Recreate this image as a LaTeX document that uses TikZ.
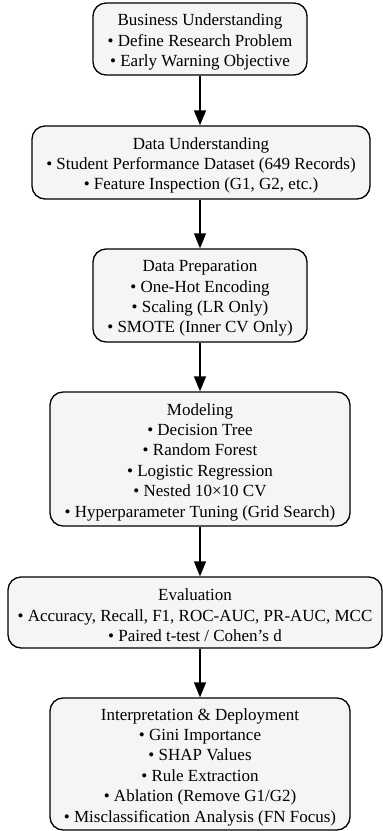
\documentclass[tikz,border=0pt]{standalone}
\usepackage{fontspec}
\setmainfont{Liberation Serif}
\usetikzlibrary{arrows.meta}
\begin{document}
\begin{tikzpicture}[x=1pt,y=-1pt,
  stage/.style={draw=black, line width=1.3pt, fill=black!4, rounded corners=13pt,
    inner sep=0pt},
  stagetext/.style={align=center, inner sep=0pt, yshift=-3pt,
    font=\fontsize{17pt}{20.4pt}\selectfont},
  flow/.style={draw=black, line width=1.3pt, -{Triangle[length=15pt,width=12pt]}}]
\useasboundingbox (0,0) rectangle (383,831);
\node[stage, minimum width=214pt, minimum height=72pt,
  label={[stagetext]center:{Business Understanding\\ • Define Research Problem\\ • Early Warning Objective}}] (bu) at (200,39) {};
\node[stage, minimum width=338pt, minimum height=73pt,
  label={[stagetext]center:{Data Understanding\\ • Student Performance Dataset (649 Records)\\ • Feature Inspection (G1, G2, etc.)}}] (du) at (201,162.5) {};
\node[stage, minimum width=214pt, minimum height=93pt,
  label={[stagetext]center:{Data Preparation\\ • One-Hot Encoding\\ • Scaling (LR Only)\\ • SMOTE (Inner CV Only)}}] (dp) at (200,295.5) {};
\node[stage, minimum width=300pt, minimum height=134pt,
  label={[stagetext]center:{Modeling\\ • Decision Tree\\ • Random Forest\\ • Logistic Regression\\ • Nested 10×10 CV\\ • Hyperparameter Tuning (Grid Search)}}] (mo) at (200,459) {};
\node[stage, minimum width=374pt, minimum height=71pt,
  label={[stagetext]center:{Evaluation\\ • Accuracy, Recall, F1, ROC-AUC, PR-AUC, MCC\\ • Paired t-test / Cohen’s d}}] (ev) at (195,612.5) {};
\node[stage, minimum width=300pt, minimum height=132pt,
  label={[stagetext]center:{Interpretation \& Deployment\\ • Gini Importance\\ • SHAP Values\\ • Rule Extraction\\ • Ablation (Remove G1/G2)\\ • Misclassification Analysis (FN Focus)}}] (id) at (200,764) {};
\draw[flow] (bu.south) -- (bu.south |- du.north);
\draw[flow] (du.south -| dp.north) -- (dp.north);
\draw[flow] (dp.south) -- (mo.north);
\draw[flow] (mo.south) -- (mo.south |- ev.north);
\draw[flow] (mo.south |- ev.south) -- (id.north);
\end{tikzpicture}
\end{document}
